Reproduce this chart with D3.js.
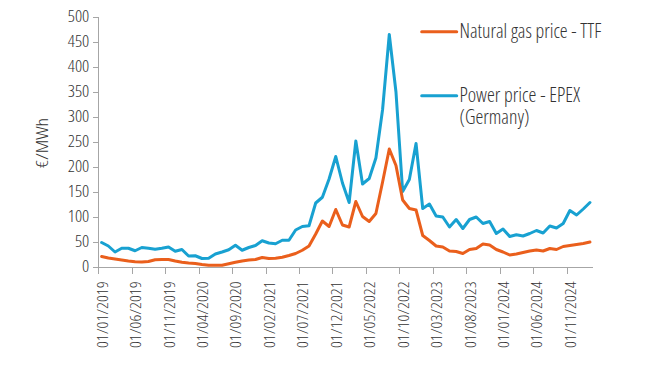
<!DOCTYPE html>
<html>
<head>
<meta charset="utf-8">
<script src="https://cdn.jsdelivr.net/npm/d3@7"></script>
<style>
  html, body { margin: 0; padding: 0; background: #fff; }
  svg text { font-family: "Open Sans", "Noto Sans", sans-serif; font-stretch: condensed; font-weight: 300; fill: #333; }
</style>
</head>
<body>
<svg id="chart" width="650" height="366"></svg>
<script>
// Monthly averages, Jan 2019 – Feb 2025 (€/MWh)
const startYear = 2019;
const gasTTF = [
  21, 18, 16, 14, 12, 10.5, 10, 11, 14.5, 15, 15, 12,            // 2019
  9.5, 8, 7, 5, 3.5, 3.5, 3.5, 6.5, 9.5, 12, 14, 15,             // 2020
  19, 17, 17.5, 19.5, 23, 27, 33.5, 42, 66, 92, 81, 115,         // 2021
  84, 80, 131, 101, 91, 107, 170, 236, 203, 134, 117, 114,       // 2022
  63, 53, 42, 40, 32, 31, 27, 35, 37, 46, 44, 35,                // 2023
  30, 24, 26, 29, 32, 34, 32, 37, 35, 41, 43, 45,                // 2024
  47, 50                                                         // 2025
];
const powerEPEX = [
  49, 42, 30, 37.5, 37.5, 32.5, 39, 37.5, 35.5, 37.5, 40, 31.5,  // 2019
  35, 22, 22.5, 17, 17.5, 26, 30, 34.5, 43.5, 33.5, 39, 43,      // 2020
  52.5, 48, 46.5, 53.5, 53.5, 74, 81, 82.5, 128, 139.5, 176, 221, // 2021
  168, 129, 252, 166, 177, 218, 315, 465, 350, 151, 175, 247,    // 2022
  117, 126, 102, 100, 80, 95, 77, 95, 100, 87, 91, 67,           // 2023
  76, 61, 64.5, 62, 67, 73, 68, 82, 78, 87, 113, 104,            // 2024
  116, 129                                                       // 2025
];
const seriesNames = ["Natural gas price - TTF", "Power price - EPEX (Germany)"];
const xTickIndex = [0, 5, 10, 15, 20, 25, 30, 35, 40, 45, 50, 55, 60, 65, 70];
const xTickLabels = ["01/01/2019","01/06/2019","01/11/2019","01/04/2020","01/09/2020",
  "01/02/2021","01/07/2021","01/12/2021","01/05/2022","01/10/2022","01/03/2023",
  "01/08/2023","01/01/2024","01/06/2024","01/11/2024"];
const yTicks = [0, 50, 100, 150, 200, 250, 300, 350, 400, 450, 500];
const yTitle = "€/MWh";

const colGas = "#ea5f1c", colPow = "#18a1d1", axisCol = "#a6a6a6";

const svg = d3.select("#chart");
const nMonths = gasTTF.length; // 74
const x = d3.scaleLinear().domain([0, nMonths]).range([98.3, 593.3]);
const y = d3.scaleLinear().domain([0, 500]).range([267, 17]);

// Y axis
const yAxis = svg.append("g").attr("transform", "translate(98.3,0)")
  .call(d3.axisLeft(y).tickValues(yTicks).tickSize(5).tickPadding(4));
yAxis.select(".domain").attr("stroke", axisCol);
yAxis.selectAll(".tick line").attr("stroke", axisCol);
yAxis.selectAll(".tick text")
  .attr("font-size", 15.5)
  .style("font-family", null)
  .attr("fill", "#333")
  .each(function(d) {
    const s = String(d);
    d3.select(this).attr("textLength", s.length * 7.2).attr("lengthAdjust", "spacingAndGlyphs");
  });

// X axis
const xAxis = svg.append("g").attr("transform", "translate(0,267)")
  .call(d3.axisBottom(x).tickValues(xTickIndex).tickSize(7)
        .tickFormat((d, i) => xTickLabels[i]));
xAxis.select(".domain").attr("stroke", axisCol).attr("d", `M${x(0)},0.5H${x(nMonths)}`);
xAxis.selectAll(".tick line").attr("stroke", axisCol);
xAxis.selectAll(".tick text")
  .attr("font-size", 15)
  .attr("fill", "#333")
  .attr("text-anchor", "end")
  .attr("transform", "rotate(-90)")
  .attr("x", -14.5)
  .attr("y", 4)
  .attr("dy", "0.32em")
  .attr("dx", 0)
  .attr("textLength", 66.5)
  .attr("lengthAdjust", "spacingAndGlyphs");

svg.selectAll(".domain, .tick line").attr("shape-rendering", "crispEdges");

// Y title
svg.append("text")
  .attr("transform", "translate(48,143) rotate(-90)")
  .attr("text-anchor", "middle")
  .attr("font-size", 15.5)
  .attr("textLength", 50).attr("lengthAdjust", "spacingAndGlyphs")
  .text(yTitle);

// Lines
const line = d3.line().x((d, i) => x(i + 0.5)).y(d => y(d));
svg.append("path").datum(powerEPEX)
  .attr("fill", "none").attr("stroke", colPow).attr("stroke-width", 3)
  .attr("stroke-linejoin", "round").attr("stroke-linecap", "round")
  .attr("d", line);
svg.append("path").datum(gasTTF)
  .attr("fill", "none").attr("stroke", colGas).attr("stroke-width", 3)
  .attr("stroke-linejoin", "round").attr("stroke-linecap", "round")
  .attr("d", line);

// Legend
const leg = svg.append("g");
leg.append("line").attr("x1", 421.7).attr("x2", 456.7).attr("y1", 31.7).attr("y2", 31.7)
  .attr("stroke", colGas).attr("stroke-width", 3).attr("stroke-linecap", "round");
leg.append("text").attr("x", 459.5).attr("y", 37.5).attr("font-size", 19.5)
  .attr("textLength", 142).attr("lengthAdjust", "spacingAndGlyphs")
  .text(seriesNames[0]);
leg.append("line").attr("x1", 421.7).attr("x2", 456.7).attr("y1", 95.7).attr("y2", 95.7)
  .attr("stroke", colPow).attr("stroke-width", 3).attr("stroke-linecap", "round");
const powText = leg.append("text").attr("font-size", 19.5);
powText.append("tspan").attr("x", 459.5).attr("y", 101.7)
  .attr("textLength", 120.5).attr("lengthAdjust", "spacingAndGlyphs")
  .text("Power price - EPEX");
powText.append("tspan").attr("x", 459.5).attr("y", 123.5)
  .attr("textLength", 70).attr("lengthAdjust", "spacingAndGlyphs")
  .text("(Germany)");
</script>
</body>
</html>
